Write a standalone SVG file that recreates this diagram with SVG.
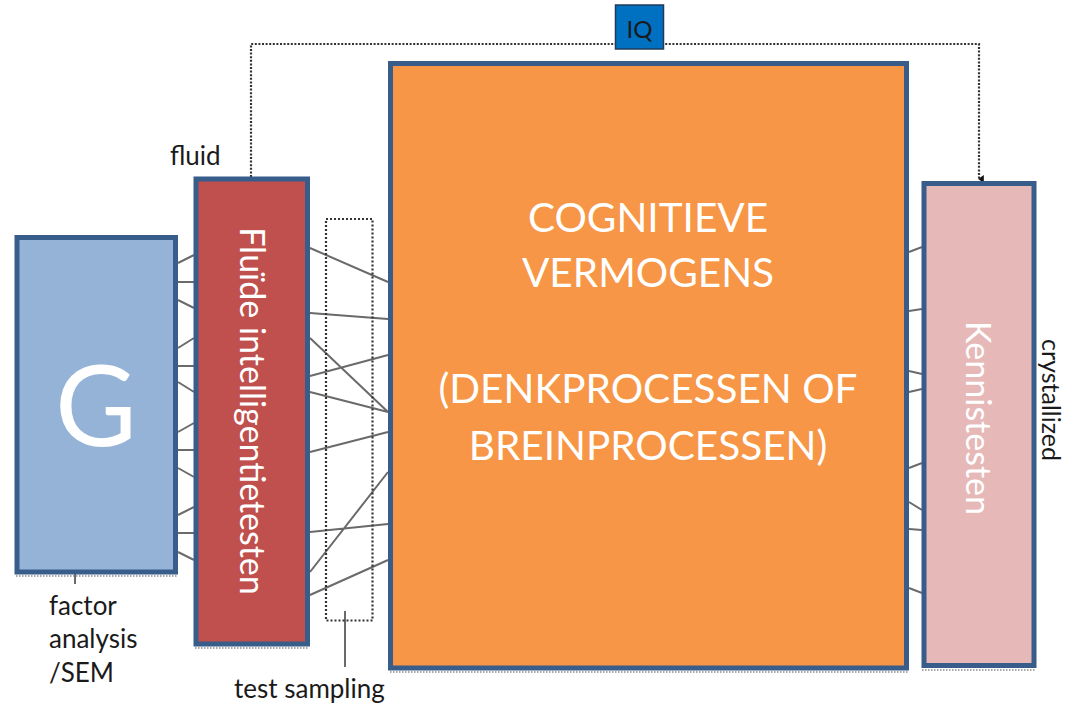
<svg xmlns="http://www.w3.org/2000/svg" width="1067" height="705" viewBox="0 0 1067 705">
  <defs>
    <style>
      .box { stroke: #385d8a; stroke-width: 5; }
      .shade { stroke: #8a8a8a; stroke-width: 1.5; stroke-dasharray: 1.5 1.5; fill: none; }
      .link { stroke: #6a6a6a; stroke-width: 2; fill: none; }
      .lbl { font-family: "Lato", "Liberation Sans", sans-serif; fill: #1a1a1a; }
      .inner { font-family: "Lato", "Liberation Sans", sans-serif; fill: #ffffff; }
      .dots { stroke: #333333; stroke-width: 2.2; stroke-dasharray: 2 1.6; fill: none; }
    </style>
    <marker id="tip" viewBox="0 0 10 10" refX="5" refY="8" markerWidth="8" markerHeight="8" orient="auto-start-reverse" markerUnits="userSpaceOnUse">
      <path d="M0 2 L10 2 L5 9 Z" fill="#111111"/>
    </marker>
  </defs>

  <rect width="1067" height="705" fill="#ffffff"/>

  <!-- connectors -->
  <g id="connectors">
    <!-- IQ bracket joining the fluid and crystallized sides -->
    <path class="dots" d="M251 177 V44 H979 V179" marker-end="url(#tip)"/>
    <!-- G to fluid tests -->
    <path class="link" d="M178 263 L194 255 M178 282 L194 282 M178 300 L194 308 M178 348 L194 338 M178 366 L194 366 M178 382 L194 392 M178 432 L194 423 M178 450 L194 450 M178 468 L194 477 M178 515 L194 507 M178 533 L194 533 M178 552 L194 560"/>
    <!-- fluid tests to cognitive abilities -->
    <path class="link" d="M310 248 L388 282 M310 313 L388 319 M310 338 L388 412 M310 376 L388 355 M310 392 L388 412 M310 452 L388 432 M310 572 L388 472 M310 532 L388 524 M310 595 L388 560"/>
    <!-- cognitive abilities to knowledge tests -->
    <path class="link" d="M909 252 L922 247 M909 311 L922 309 M909 371 L922 374 M909 392 L922 389 M909 468 L922 463 M909 502 L922 510 M909 529 L922 530 M909 588 L922 593"/>
    <!-- leader ticks for the labels -->
    <path class="link" d="M75 574 V584 M345 611 V667"/>
  </g>

  <!-- test sampling frame -->
  <g id="sampling">
    <rect x="326" y="219" width="46.5" height="401.5" fill="none" stroke="#333333" stroke-width="2.2" stroke-dasharray="2 2"/>
  </g>

  <!-- G -->
  <g id="node-g">
    <rect class="box" x="17" y="237.5" width="158.5" height="334.5" fill="#95b3d7"/>
    <line class="shade" x1="16" y1="576" x2="178" y2="576"/>
    <text class="inner" x="96" y="446" font-size="112" text-anchor="middle">G</text>
  </g>

  <!-- fluid intelligence tests -->
  <g id="node-fluid">
    <rect class="box" x="196" y="179" width="111.5" height="465" fill="#c0504d"/>
    <line class="shade" x1="195" y1="648" x2="309" y2="648"/>
    <text class="inner" transform="translate(251.5 411) rotate(90)" y="12" font-size="34" text-anchor="middle">Fluïde intelligentietesten</text>
  </g>

  <!-- cognitive abilities -->
  <g id="node-cognitive">
    <rect class="box" x="390.5" y="63.5" width="516" height="604.5" fill="#f79646"/>
    <line class="shade" x1="390" y1="672" x2="909" y2="672"/>
    <g class="inner" font-size="40.5" text-anchor="middle">
      <text x="648" y="232">COGNITIEVE</text>
      <text x="648" y="287">VERMOGENS</text>
      <text x="648" y="403">(DENKPROCESSEN OF</text>
      <text x="648" y="460">BREINPROCESSEN)</text>
    </g>
  </g>

  <!-- knowledge tests -->
  <g id="node-knowledge">
    <rect class="box" x="924" y="183.5" width="110" height="482" fill="#e6b9b8"/>
    <line class="shade" x1="922" y1="670" x2="1036" y2="670"/>
    <text class="inner" transform="translate(978 418) rotate(90)" y="12" font-size="34" text-anchor="middle">Kennistesten</text>
  </g>

  <!-- IQ -->
  <g id="node-iq">
    <rect x="615.5" y="5" width="48" height="44" fill="#0070c0" stroke="#1f3b5a" stroke-width="1.5"/>
    <text class="lbl" x="639.5" y="38" font-size="24" text-anchor="middle" fill="#000000">IQ</text>
  </g>

  <!-- side labels -->
  <g id="labels" font-size="26">
    <text class="lbl" x="170" y="165">fluid</text>
    <text class="lbl" x="49" y="615">factor</text>
    <text class="lbl" x="49" y="648">analysis</text>
    <text class="lbl" x="49" y="682">/SEM</text>
    <text class="lbl" x="234" y="698">test sampling</text>
    <text class="lbl" transform="translate(1050 400) rotate(90)" y="8" font-size="25" text-anchor="middle">crystallized</text>
  </g>
</svg>
